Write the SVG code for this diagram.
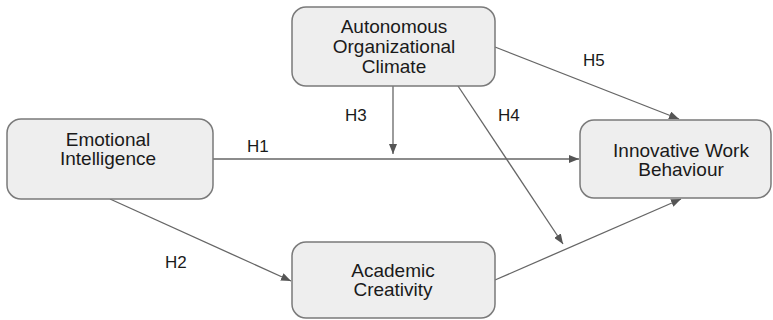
<svg xmlns="http://www.w3.org/2000/svg" width="773" height="320" viewBox="0 0 773 320">
  <style>
    .box { fill: #eeeeee; stroke: #7a7a7a; stroke-width: 1.5; }
    .lbl { font-family: "Liberation Sans", Arial, sans-serif; font-size: 19px; fill: #1a1a1a; text-anchor: middle; }
    .hyp { font-family: "Liberation Sans", Arial, sans-serif; font-size: 17px; fill: #1a1a1a; }
    .edge { stroke: #666666; stroke-width: 1.3; fill: none; marker-end: url(#arrow); }
  </style>
  <defs>
    <marker id="arrow" viewBox="0 0 10 8" refX="10" refY="4" markerWidth="10" markerHeight="8" markerUnits="userSpaceOnUse" orient="auto">
      <path d="M0,0 L10,4 L0,8 Z" fill="#555555"/>
    </marker>
  </defs>

  <g id="connectors">
    <!-- H1: Emotional Intelligence -> Innovative Work Behaviour -->
    <line class="edge" x1="213" y1="159" x2="579" y2="159"/>
    <!-- H2: Emotional Intelligence -> Academic Creativity -->
    <line class="edge" x1="110" y1="199" x2="291" y2="281"/>
    <!-- H3: climate moderating H1 -->
    <line class="edge" x1="393" y1="86" x2="393" y2="154"/>
    <!-- H4: climate moderating creativity path -->
    <line class="edge" x1="458" y1="86" x2="563" y2="244"/>
    <!-- H5: climate -> Innovative Work Behaviour -->
    <line class="edge" x1="495" y1="47" x2="679" y2="119"/>
    <!-- Academic Creativity -> Innovative Work Behaviour -->
    <line class="edge" x1="495" y1="280" x2="681" y2="199"/>
  </g>

  <g id="labels">
    <text class="hyp" x="247" y="152">H1</text>
    <text class="hyp" x="165" y="268">H2</text>
    <text class="hyp" x="345" y="121">H3</text>
    <text class="hyp" x="498" y="121">H4</text>
    <text class="hyp" x="583" y="66">H5</text>
  </g>

  <g id="autonomous-climate">
    <rect class="box" x="292" y="7" width="203" height="79" rx="14"/>
    <text class="lbl" x="394" y="33">Autonomous</text>
    <text class="lbl" x="394" y="53">Organizational</text>
    <text class="lbl" x="394" y="73">Climate</text>
  </g>

  <g id="emotional-intelligence">
    <rect class="box" x="7" y="119" width="206" height="80" rx="14"/>
    <text class="lbl" x="108" y="146">Emotional</text>
    <text class="lbl" x="108" y="165">Intelligence</text>
  </g>

  <g id="innovative-work-behaviour">
    <rect class="box" x="580" y="120" width="191" height="78" rx="14"/>
    <text class="lbl" x="681" y="157">Innovative Work</text>
    <text class="lbl" x="681" y="176">Behaviour</text>
  </g>

  <g id="academic-creativity">
    <rect class="box" x="292" y="242" width="203" height="76" rx="14"/>
    <text class="lbl" x="393" y="277">Academic</text>
    <text class="lbl" x="393" y="296">Creativity</text>
  </g>
</svg>
